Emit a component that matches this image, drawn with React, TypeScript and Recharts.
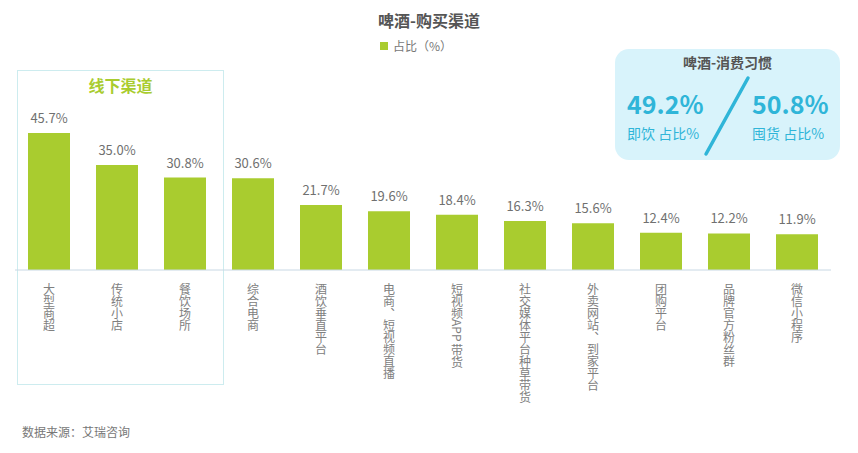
import React from 'react';
import { BarChart, Bar, XAxis, YAxis, LabelList } from 'recharts';

const channels = [
  '大型商超',
  '传统小店',
  '餐饮场所',
  '综合电商',
  '酒饮垂直平台',
  '电商、短视频直播',
  '短视频APP 带货',
  '社交媒体平台种草带货',
  '外卖网站、到家平台',
  '团购平台',
  '品牌官方粉丝群',
  '微信小程序',
];
const shares = [45.7, 35.0, 30.8, 30.6, 21.7, 19.6, 18.4, 16.3, 15.6, 12.4, 12.2, 11.9];
const habitLabels = ['即饮 占比%', '囤货 占比%'];
const habitShares = [49.2, 50.8];

const font = '"Noto Sans CJK SC", "Noto Sans", sans-serif';
const green = '#a9cc2f';
const cyan = '#2fb5d8';

const data = channels.map((name, i) => ({ name, value: shares[i] }));

const VerticalTick = (props: any) => {
  const { x, y, payload } = props;
  return (
    <text
      x={x}
      y={y + 5}
      fill="#808080"
      fontSize={12}
      fontFamily={font}
      style={{ writingMode: 'vertical-rl' } as any}
    >
      {payload.value}
    </text>
  );
};

export default function App() {
  return (
    <div style={{ position: 'absolute', left: 0, top: 0, width: 858, height: 453, background: '#fff', fontFamily: font }}>
      <div style={{ position: 'absolute', left: 0, top: 8, width: 858, textAlign: 'center', fontSize: 16, fontWeight: 700, color: '#555' }}>
        啤酒-购买渠道
      </div>
      <div style={{ position: 'absolute', left: 380, top: 37, fontSize: 12, color: '#777', display: 'flex', alignItems: 'center' }}>
        <span style={{ display: 'inline-block', width: 8, height: 8, background: green, marginRight: 5 }} />
        占比（%）
      </div>
      <div style={{ position: 'absolute', left: 17, top: 70, width: 207, height: 315, border: '1px solid #cdecef', boxSizing: 'border-box' }}>
        <div style={{ textAlign: 'center', marginTop: 2, fontSize: 16, fontWeight: 700, color: green }}>线下渠道</div>
      </div>
      <BarChart width={858} height={453} data={data} margin={{ top: 120, right: 27, bottom: 0, left: 15 }} style={{ position: 'absolute', left: 0, top: 0 }}>
        <YAxis hide domain={[0, 50]} />
        <XAxis
          dataKey="name"
          height={183}
          interval={0}
          tickLine={false}
          axisLine={{ stroke: '#c8d8e4' }}
          tick={<VerticalTick />}
        />
        <Bar dataKey="value" fill={green} barSize={42} isAnimationActive={false}>
          <LabelList
            dataKey="value"
            position="top"
            offset={10}
            fill="#707070"
            fontSize={13}
            fontFamily={font}
            formatter={(v: any) => `${Number(v).toFixed(1)}%`}
          />
        </Bar>
      </BarChart>
      <div style={{ position: 'absolute', left: 615, top: 49, width: 225, height: 111, background: '#d8f3fb', borderRadius: 14 }}>
        <div style={{ position: 'absolute', left: 0, top: 3, width: 225, textAlign: 'center', fontSize: 14, fontWeight: 700, color: '#555' }}>
          啤酒-消费习惯
        </div>
        <div style={{ position: 'absolute', left: 12, top: 36, fontSize: 25, fontWeight: 700, color: cyan }}>
          {habitShares[0].toFixed(1)}%
        </div>
        <div style={{ position: 'absolute', left: 12, top: 74, fontSize: 14, color: cyan }}>{habitLabels[0]}</div>
        <div style={{ position: 'absolute', left: 137, top: 36, fontSize: 25, fontWeight: 700, color: cyan }}>
          {habitShares[1].toFixed(1)}%
        </div>
        <div style={{ position: 'absolute', left: 137, top: 74, fontSize: 14, color: cyan }}>{habitLabels[1]}</div>
        <svg width={225} height={111} style={{ position: 'absolute', left: 0, top: 0 }}>
          <line x1={91} y1={105} x2={133} y2={29} stroke={cyan} strokeWidth={3.5} strokeLinecap="round" />
        </svg>
      </div>
      <div style={{ position: 'absolute', left: 22, top: 423, fontSize: 12, color: '#777' }}>数据来源：艾瑞咨询</div>
    </div>
  );
}
